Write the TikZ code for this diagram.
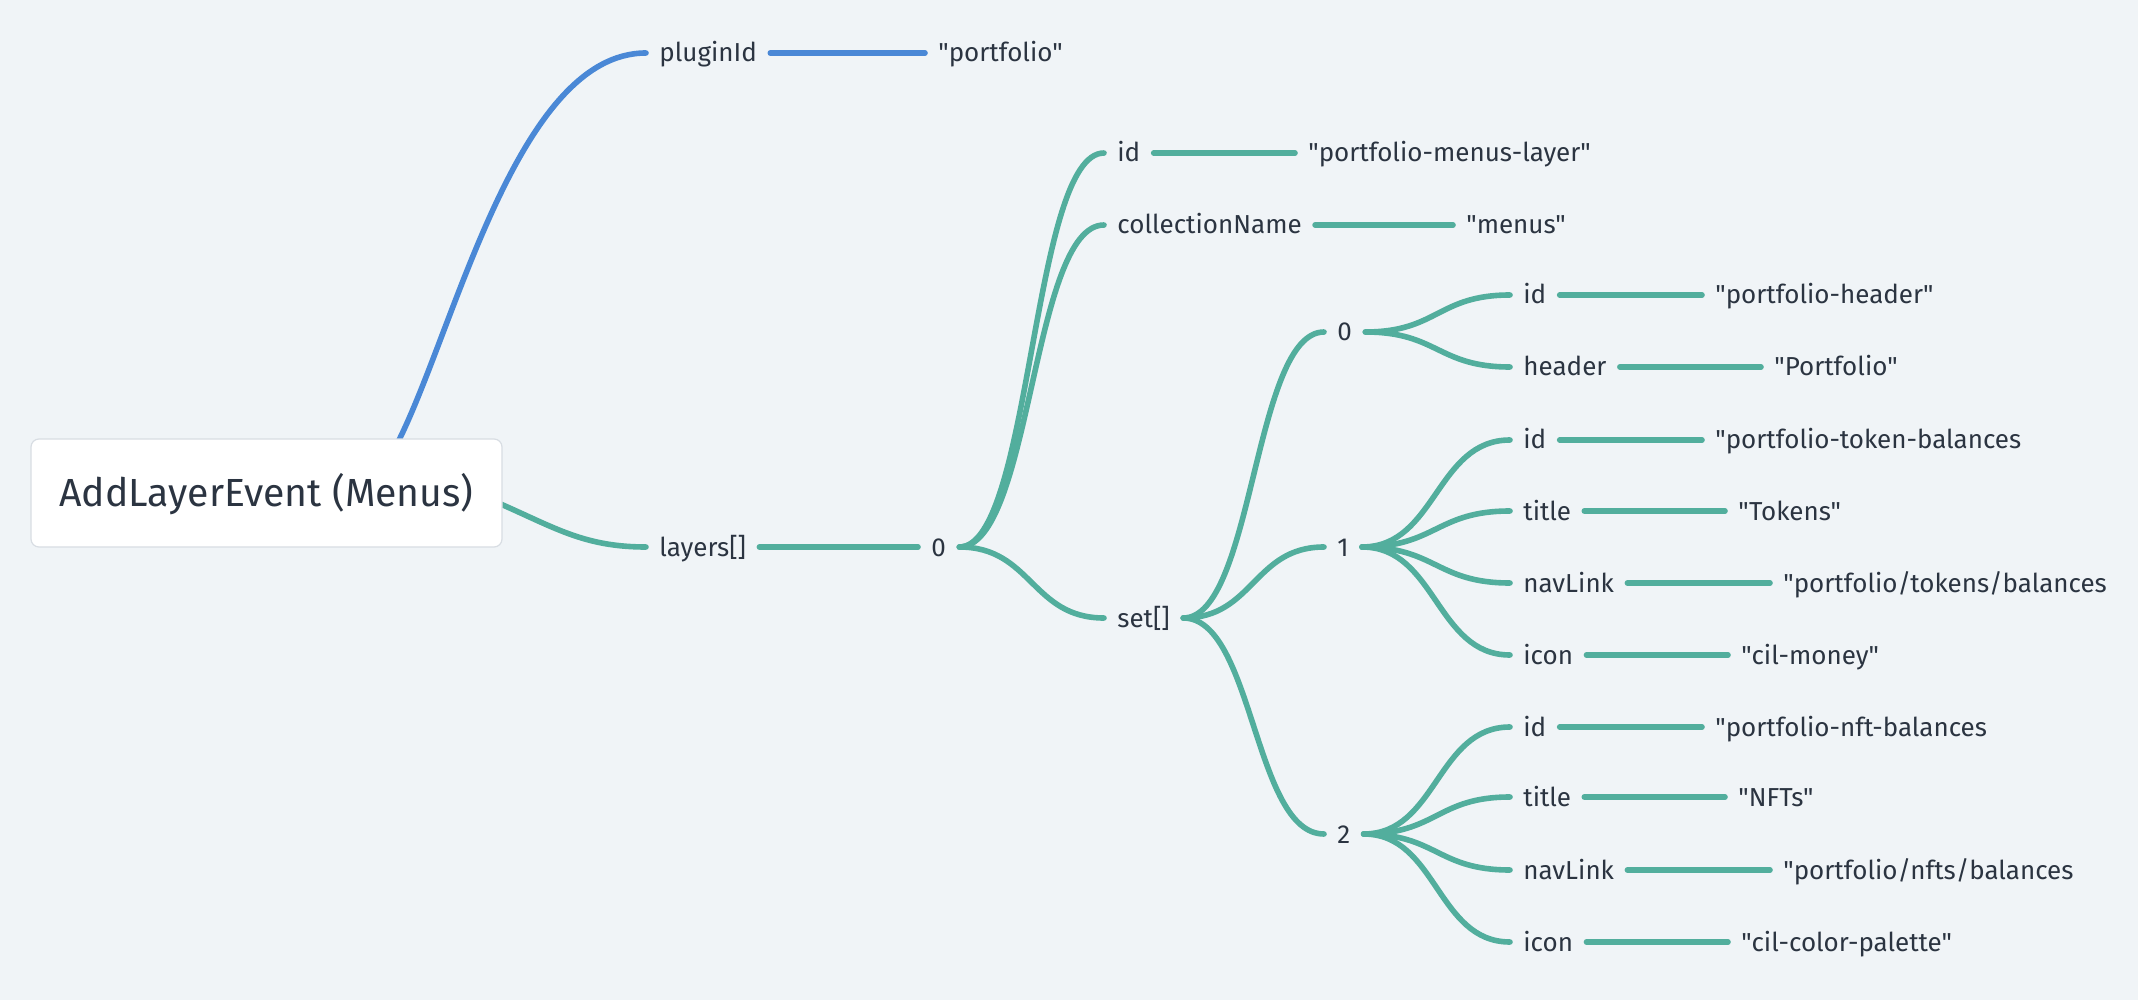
\documentclass[tikz,border=0pt]{standalone}
\usepackage{fontspec}
\setmainfont{Fira Sans}
% family without TeX ligature mapping, so " stays a straight quote
\newfontfamily\mapfont{Fira Sans}
\usetikzlibrary{calc,backgrounds}

\definecolor{canvas}{HTML}{F0F4F7}
\definecolor{ink}{HTML}{2B3441}
\definecolor{linkgreen}{HTML}{52AE9D}
\definecolor{linkblue}{HTML}{4A88D6}
\definecolor{boxline}{HTML}{D8DDE3}

\begin{document}
\begin{tikzpicture}[x=0.5pt,y=-0.5pt,
  key/.style={font=\mapfont\fontsize{13pt}{16pt}\selectfont, text=ink, inner sep=0pt,
              text height=9pt, text depth=0pt, anchor=west},
  rootbox/.style={font=\mapfont\fontsize{19.6pt}{24pt}\selectfont, text=ink, fill=white,
              draw=boxline, line width=0.6pt, rounded corners=4pt,
              minimum width=235.5pt, minimum height=54pt,
              text height=13.5pt, text depth=0pt, inner sep=0pt},
  wire/.style={line width=2.8pt, line cap=round, draw=linkgreen,
              shorten <=6.5pt, shorten >=6.5pt},
  branch/.style={wire, to path={let \p1=(\tikztostart), \p2=(\tikztotarget) in
              .. controls ({0.5*\x1+0.5*\x2},\y1) and ({0.5*\x1+0.5*\x2},\y2) .. (\tikztotarget)}},
]
\useasboundingbox (0,0) rectangle (2138,1000);

% root
\node[rootbox] (root) at (266.5,493) {AddLayerEvent (Menus)};
\coordinate (rootTop) at (396,446);
\coordinate (rootRight) at (496,502);

% first level
\node[key] (plugin) at (659,53) {pluginId};
\node[key] (pluginv) at (938,53) {"portfolio"};
\node[key] (layers) at (659,547) {layers[]};
\node[key] (l0) at (931,547) {0};

% layer 0
\node[key] (lid) at (1117,153) {id};
\node[key] (lidv) at (1308,153) {"portfolio-menus-layer"};
\node[key] (lcn) at (1117,225) {collectionName};
\node[key] (lcnv) at (1466,225) {"menus"};
\node[key] (lset) at (1117,618) {set[]};

% set entries
\node[key] (s0) at (1337,332) {0};
\node[key] (s1) at (1337,547) {1};
\node[key] (s2) at (1337,834) {2};

% set[0]
\node[key] (s0id) at (1523,295) {id};
\node[key] (s0idv) at (1715,295) {"portfolio-header"};
\node[key] (s0hd) at (1523,367) {header};
\node[key] (s0hdv) at (1774,367) {"Portfolio"};

% set[1]
\node[key] (s1id) at (1523,440) {id};
\node[key] (s1idv) at (1715,440) {"portfolio-token-balances};
\node[key] (s1ti) at (1523,511) {title};
\node[key] (s1tiv) at (1738,511) {"Tokens"};
\node[key] (s1nv) at (1523,583) {navLink};
\node[key] (s1nvv) at (1783,583) {"portfolio/tokens/balances};
\node[key] (s1ic) at (1523,655) {icon};
\node[key] (s1icv) at (1741,655) {"cil-money"};

% set[2]
\node[key] (s2id) at (1523,727) {id};
\node[key] (s2idv) at (1715,727) {"portfolio-nft-balances};
\node[key] (s2ti) at (1523,797) {title};
\node[key] (s2tiv) at (1738,797) {"NFTs"};
\node[key] (s2nv) at (1523,870) {navLink};
\node[key] (s2nvv) at (1783,870) {"portfolio/nfts/balances};
\node[key] (s2ic) at (1523,942) {icon};
\node[key] (s2icv) at (1741,942) {"cil-color-palette"};

\begin{scope}[on background layer]
  \fill[canvas] (0,0) rectangle (2138,1000);

  % links out of the root box
  \draw[wire, draw=linkblue, shorten <=0pt] (rootTop)
      .. controls ($(rootTop)+(58,-112)$) and ($(plugin.west)+(-143,0)$) .. (plugin.west);
  \draw[wire, shorten <=0pt] (rootRight)
      .. controls ($(rootRight)+(58,25)$) and ($(layers.west)+(-76,0)$) .. (layers.west);

  % straight key/value links
  \draw[wire, draw=linkblue] (plugin.east) -- (pluginv.west);
  \draw[wire] (layers.east) -- (l0.west);
  \draw[wire] (lid.east) -- (lidv.west);
  \draw[wire] (lcn.east) -- (lcnv.west);
  \foreach \k in {s0id,s0hd,s1id,s1ti,s1nv,s1ic,s2id,s2ti,s2nv,s2ic}
    \draw[wire] (\k.east) -- (\k v.west);

  % curved branches
  \foreach \c in {lid,lcn,lset} \draw[branch] (l0.east) to (\c.west);
  \foreach \c in {s0,s1,s2} \draw[branch] (lset.east) to (\c.west);
  \foreach \c in {s0id,s0hd} \draw[branch] (s0.east) to (\c.west);
  \foreach \c in {s1id,s1ti,s1nv,s1ic} \draw[branch] (s1.east) to (\c.west);
  \foreach \c in {s2id,s2ti,s2nv,s2ic} \draw[branch] (s2.east) to (\c.west);
\end{scope}
\end{tikzpicture}
\end{document}
